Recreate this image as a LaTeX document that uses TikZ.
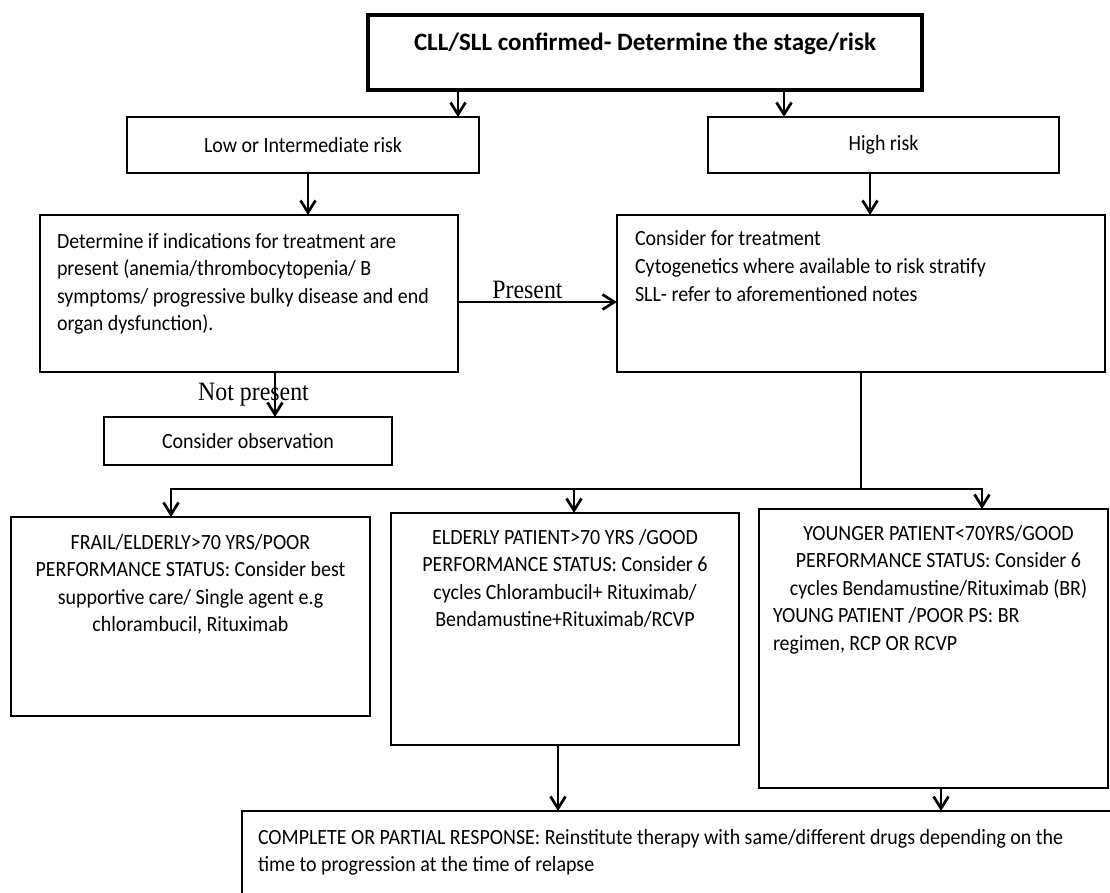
\documentclass[tikz,border=0pt]{standalone}
\usepackage{fontspec}
\setmainfont{Carlito}[FakeStretch=0.92]
\newfontfamily\titlefont{Carlito}
\newfontfamily\timesfont{Liberation Serif}[FakeStretch=0.9]
\usetikzlibrary{arrows.meta}
\setlength{\parindent}{0pt}

\begin{document}
\begin{tikzpicture}[
    x=1pt, y=-1pt,
    box/.style={draw, line width=2.7pt, outer sep=0pt, align=flush center, font=\fontsize{21.7}{27.5}\selectfont},
    tallbox/.style={box, anchor=north west, text height=15pt},
    arr/.style={line width=2.7pt, -{Straight Barb[length=12pt,width=15pt]}},
    lbl/.style={font=\timesfont\fontsize{26.5}{30}\selectfont, inner sep=2pt}
]
\useasboundingbox (0,0) rectangle (1110,893);
\clip (0,0) rectangle (1110,893);

% Staging
\node[box, line width=3.2pt, anchor=north, minimum width=554pt, inner ysep=17.7pt, text height=18pt, text depth=21.6pt,
      font=\titlefont\bfseries\fontsize{25}{29}\selectfont] (stage) at (645,15) {CLL/SLL confirmed- Determine the stage/risk};
\node[box, minimum width=352pt, minimum height=56pt] (lowrisk) at (303,145) {Low or Intermediate risk};
\node[box, minimum width=351pt, minimum height=56pt] (highrisk) at (883.5,145) {High risk};

\draw[arr] ([xshift=-187pt]stage.south) -- ([xshift=-187pt]stage.south |- lowrisk.north);
\draw[arr] ([xshift=139pt]stage.south) -- ([xshift=139pt]stage.south |- highrisk.north);

% Indications
\node[tallbox, align=flush left, text width=384pt, inner xsep=17pt, inner ysep=18pt, text depth=106pt] (indic) at (40,215)
  {Determine if indications for treatment are\\ present (anemia/thrombocytopenia/ B\\ symptoms/ progressive bulky disease and end\\ organ dysfunction).};
\node[tallbox, align=flush left, text width=452pt, inner xsep=18pt, inner ysep=16pt, text depth=110pt] (treat) at (617,215)
  {Consider for treatment\\ Cytogenetics where available to risk stratify\\ SLL- refer to aforementioned notes};
\node[box, minimum width=288pt, minimum height=48pt] (observe) at (248,441) {Consider observation};

\draw[arr] ([xshift=5pt]lowrisk.south) -- ([xshift=5pt]lowrisk.south |- indic.north);
\draw[arr] ([xshift=-13.5pt]highrisk.south) -- ([xshift=-13.5pt]highrisk.south |- treat.north);
\draw[arr] ([yshift=-8.5pt]indic.east) -- ([yshift=-8.5pt]indic.east -| treat.west)
  node[lbl, above, midway, xshift=-10pt] {Present};
\draw[arr] ([xshift=26pt]indic.south) -- ([xshift=26pt]indic.south |- observe.north)
  node[lbl, midway, xshift=-21.5pt] {Not present};

% Treatment options
\node[tallbox, text width=339pt, inner xsep=10pt, inner ysep=17pt, text depth=150pt] (frail) at (11,517)
  {FRAIL/ELDERLY>70 YRS/POOR\\ PERFORMANCE STATUS: Consider best\\ supportive care/ Single agent e.g\\ chlorambucil, Rituximab};
\node[tallbox, text width=328pt, inner xsep=10pt, inner ysep=16pt, text depth=185pt] (elderly) at (391,513)
  {ELDERLY PATIENT>70 YRS /GOOD\\ PERFORMANCE STATUS: Consider 6\\ cycles Chlorambucil+ Rituximab/\\ Bendamustine+Rituximab/RCVP};
\node[tallbox, align=flush left, text width=321pt, inner xsep=14pt, inner ysep=16pt, text depth=232pt] (younger) at (759,509)
  {{\centering\hspace*{10pt}YOUNGER PATIENT<70YRS/GOOD\\ \hspace*{10pt}PERFORMANCE STATUS: Consider 6\\ \hspace*{10pt}cycles Bendamustine/Rituximab (BR)\par}
   YOUNG PATIENT /POOR PS: BR\\ regimen, RCP OR RCVP};

\coordinate (split) at ([yshift=-117pt]treat.south);
\draw[line width=2.7pt] (treat.south) -- (split);
\draw[arr] (split) -| ([xshift=-19.5pt]frail.north);
\draw[arr] (split) -| ([xshift=48.5pt]younger.north);
\draw[arr] ([xshift=9pt]elderly.north |- split) -- ([xshift=9pt]elderly.north);

% Relapse
\node[tallbox, align=flush left, text width=851pt, inner xsep=16pt, inner ysep=18pt, text depth=49pt] (relapse) at (242,811)
  {COMPLETE OR PARTIAL RESPONSE: Reinstitute therapy with same/different drugs depending on the\\ time to progression at the time of relapse};

\draw[arr] ([xshift=-7pt]elderly.south) -- ([xshift=-7pt]elderly.south |- relapse.north);
\draw[arr] ([xshift=7.5pt]younger.south) -- ([xshift=7.5pt]younger.south |- relapse.north);
\end{tikzpicture}
\end{document}
